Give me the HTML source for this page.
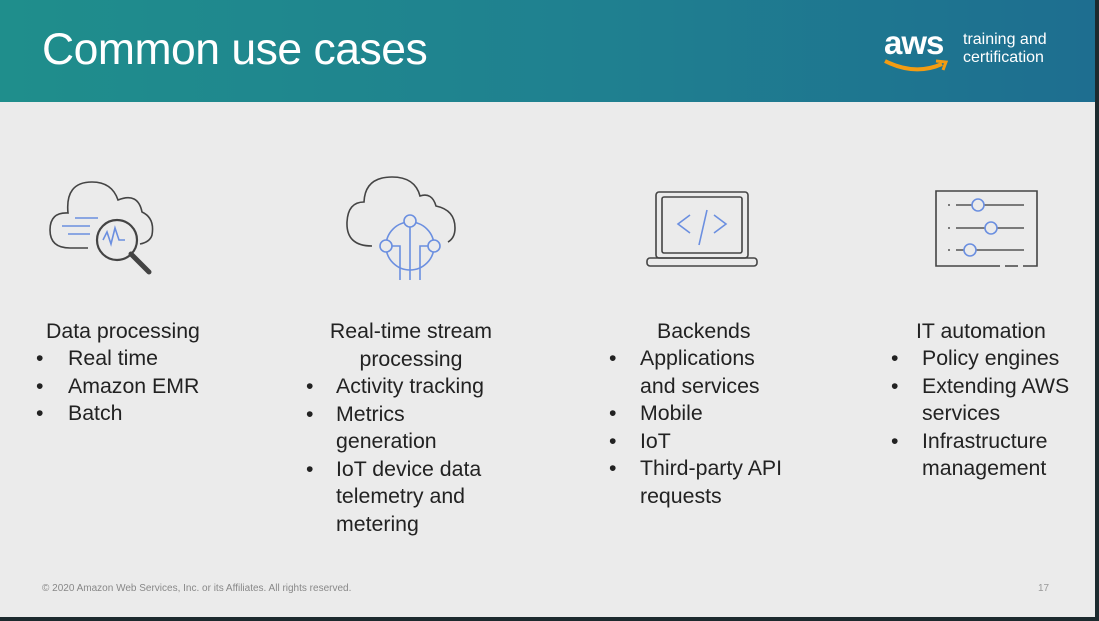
<!DOCTYPE html><html><head><style>
body{margin:0;width:1099px;height:621px;background:#1c2a2e;overflow:hidden;font-family:"Liberation Sans",sans-serif}
.s{position:absolute;left:0;top:0;width:1095px;height:617px;background:#ebebeb}
.h{position:absolute;left:0;top:0;width:1095px;height:102px;background:linear-gradient(90deg,#1f8e8c 0%,#1f8090 55%,#1e6e90 100%)}
.t{position:absolute;left:42px;top:25px;font-size:44.5px;color:#fff;letter-spacing:-0.5px}
.txt{position:absolute;font-size:21.3px;color:#222;line-height:27.5px}
.b{position:absolute;font-size:21.3px;color:#222;line-height:27.5px}
</style></head><body><div class="s">
<div class="h"></div>
<div class="t">Common use cases</div>
<div style="position:absolute;left:884px;top:24px;color:#fff;font-size:33px;font-weight:bold;letter-spacing:-1px">aws</div>
<svg style="position:absolute;left:882px;top:58px" width="70" height="18"><path d="M3 3 Q33 18 60 6" stroke="#f39c12" stroke-width="4" fill="none"/><path d="M54 3 L64 4 L61 12" stroke="#f39c12" stroke-width="3" fill="none"/></svg>
<div style="position:absolute;left:963px;top:31px;color:#fff;font-size:16px;line-height:18px">training and<br>certification</div>

<svg style="position:absolute;left:0;top:160px" width="1095" height="130" fill="none" stroke-width="1.6">
<path d="M88 88 H70 Q50 88 50 70 Q50 52 68 53 Q65 22 92 22 Q112 22 118 40 Q138 32 142 52 Q155 58 152 75 Q150 82 140 84" stroke="#444"/>
<g stroke="#6b8fe0"><path d="M75 58H98M62 66H90M68 74H90"/><path d="M103 80l4-8 4 12 4-16 4 12h6"/></g>
<circle cx="117" cy="80" r="20" stroke="#444" stroke-width="2.2"/><path d="M131 94l18 18" stroke="#444" stroke-width="5" stroke-linecap="round"/>
<path d="M372 86Q346 86 347 62Q348 42 364 42Q365 17 392 17Q415 17 420 36Q432 32 436 46Q455 50 455 68Q455 78 448 82" stroke="#444"/>
<g stroke="#6b8fe0"><circle cx="410" cy="86" r="24"/><circle cx="410" cy="61" r="6" fill="#ebebeb"/><circle cx="386" cy="86" r="6" fill="#ebebeb"/><circle cx="434" cy="86" r="6" fill="#ebebeb"/><path d="M410 67V120M400 120V86H392M420 120V86H428"/></g>
<rect x="656" y="32" width="92" height="66" rx="3" stroke="#444"/><rect x="662" y="37" width="80" height="56" rx="2" stroke="#444"/><rect x="647" y="98" width="110" height="8" rx="3" stroke="#444"/>
<path d="M690 55l-12 9 12 9M714 55l12 9-12 9M707 50l-8 35" stroke="#6b8fe0"/>
<path d="M1000 106H936V31H1037V106H1023M1018 106H1005" stroke="#444"/>
<g stroke="#555"><path d="M948 45h2M956 45H1024M948 68h2M956 68H1024M948 90h2M956 90H1024"/></g>
<g stroke="#6b8fe0" fill="#ebebeb"><circle cx="978" cy="45" r="6"/><circle cx="991" cy="68" r="6"/><circle cx="970" cy="90" r="6"/></g>
</svg>

<div class="txt" style="left:46px;top:318px">Data processing</div>
<div class="b" style="left:36px;top:345px">•<br>•<br>•</div>
<div class="txt" style="left:68px;top:345px">Real time<br>Amazon EMR<br>Batch</div>

<div class="txt" style="left:300px;top:318px;width:222px;text-align:center">Real-time stream<br>processing</div>
<div class="b" style="left:306px;top:373px">•<br>•<br><br>•</div>
<div class="txt" style="left:336px;top:373px">Activity tracking<br>Metrics<br>generation<br>IoT device data<br>telemetry and<br>metering</div>

<div class="txt" style="left:657px;top:318px">Backends</div>
<div class="b" style="left:609px;top:345px">•<br><br>•<br>•<br>•</div>
<div class="txt" style="left:640px;top:345px">Applications<br>and services<br>Mobile<br>IoT<br>Third-party API<br>requests</div>

<div class="txt" style="left:916px;top:318px">IT automation</div>
<div class="b" style="left:891px;top:345px">•<br>•<br><br>•</div>
<div class="txt" style="left:922px;top:345px">Policy engines<br>Extending AWS<br>services<br>Infrastructure<br>management</div>

<div style="position:absolute;left:42px;top:583px;font-size:10px;color:#888">© 2020 Amazon Web Services, Inc. or its Affiliates. All rights reserved.</div>
<div style="position:absolute;left:1038px;top:583px;font-size:10px;color:#999">17</div>
</div></body></html>
